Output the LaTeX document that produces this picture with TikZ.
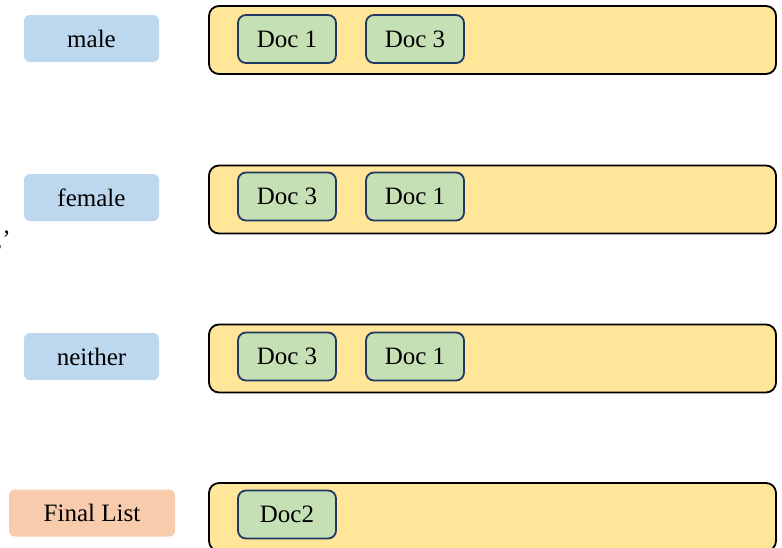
\documentclass[tikz,border=0pt]{standalone}
\usepackage{fontspec}
\setmainfont{Liberation Serif}
\usetikzlibrary{positioning}
\definecolor{labblue}{HTML}{BDD7EE}
\definecolor{laborange}{HTML}{F8CBAD}
\definecolor{listyellow}{HTML}{FFE699}
\definecolor{docgreen}{HTML}{C5E0B4}
\definecolor{docedge}{HTML}{203864}
\tikzset{
  big/.style={font=\fontsize{25}{25}\selectfont},
  catbox/.style={big, fill=labblue, rounded corners=6pt, minimum width=135pt, minimum height=47pt, inner sep=0pt},
  listbox/.style={fill=listyellow, draw=black, line width=1.8pt, rounded corners=10pt, minimum width=567pt, minimum height=68pt, inner sep=0pt},
  docbox/.style={big, fill=docgreen, draw=docedge, line width=1.8pt, rounded corners=8pt, minimum width=98pt, minimum height=48pt, inner sep=0pt}
}
\begin{document}
\begin{tikzpicture}[x=1pt,y=-1pt]
    \useasboundingbox (0,0) rectangle (782,547);
    \clip (0,0) rectangle (782,547);
    %male
    \node[catbox] (male) at (91.5,38.5) {male};
    \node[listbox] (malelist) at (492.5,40) {};
    \node[docbox] (maledocA) at (287,39) {Doc 1};
    \node[docbox] (maledocB) at (415,39) {Doc 3};
    %female
    \node[catbox] (female) at (91.5,197.5) {female};
    \node[listbox] (femalelist) at (492.5,199.5) {};
    \node[docbox] (femaledocA) at (287,196.5) {Doc 3};
    \node[docbox] (femaledocB) at (415,196.5) {Doc 1};
    \node[big, anchor=base east, inner sep=0pt] (stray) at (11,247) {,’};
    %neither
    \node[catbox] (neither) at (91.5,356.5) {neither};
    \node[listbox] (neitherlist) at (492.5,358.5) {};
    \node[docbox] (neitherdocA) at (287,356.5) {Doc 3};
    \node[docbox] (neitherdocB) at (415,356.5) {Doc 1};
    %Final List
    \node[catbox, fill=laborange, minimum width=166pt] (final) at (92,513) {Final List};
    \node[listbox] (finallist) at (492.5,517) {};
    \node[docbox] (finaldoc) at (287,514.5) {Doc2};
\end{tikzpicture}
\end{document}
